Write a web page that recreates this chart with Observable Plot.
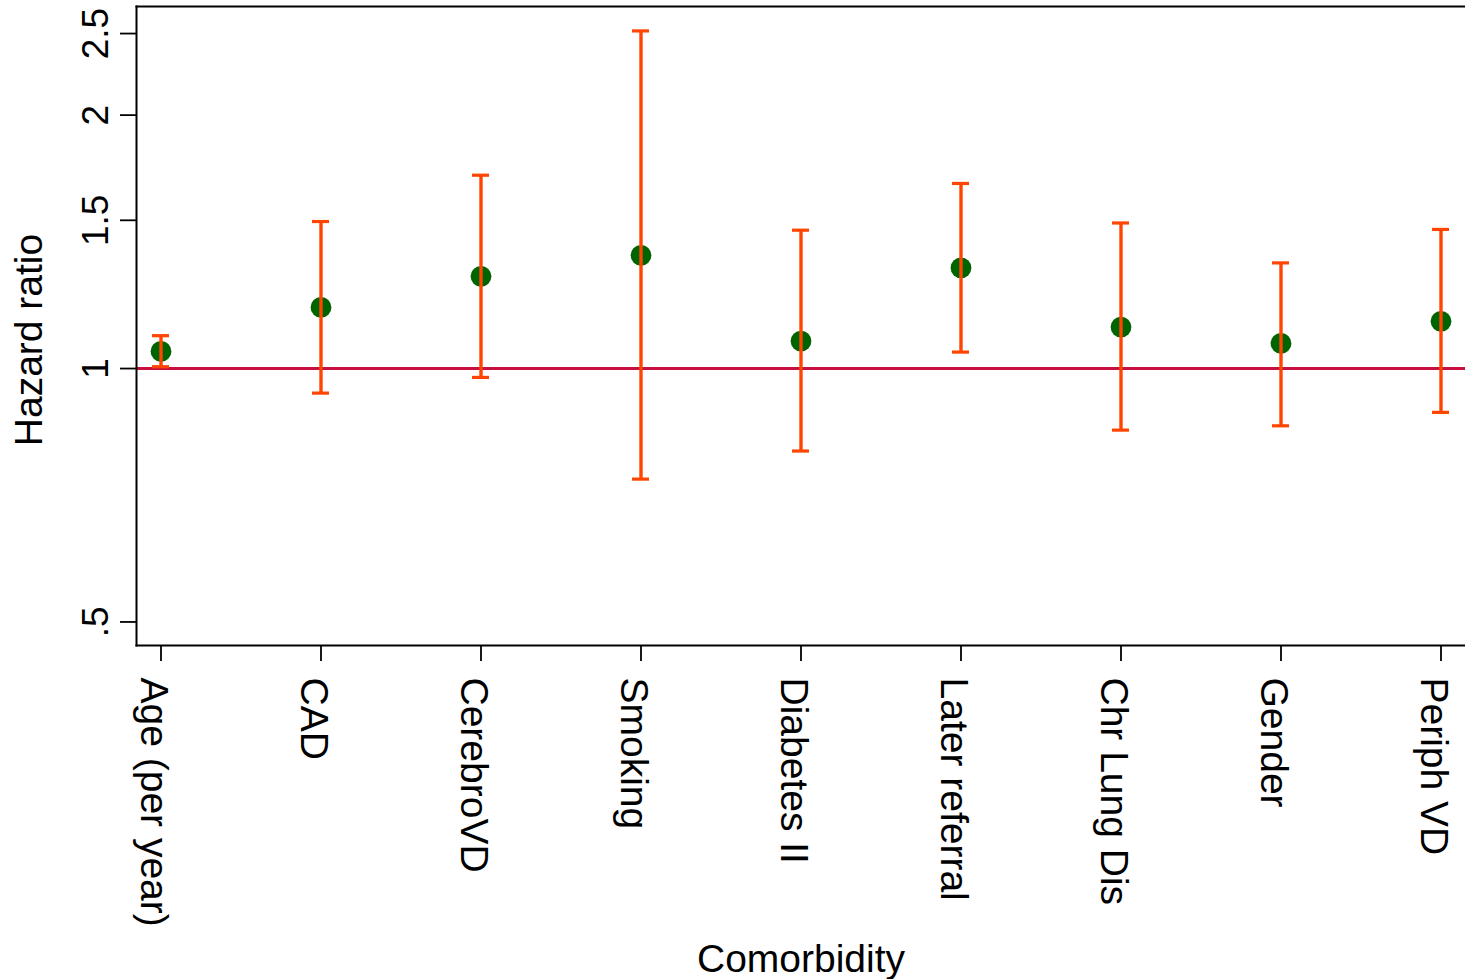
<!DOCTYPE html>
<html>
<head>
<meta charset="utf-8">
<script src="https://cdn.jsdelivr.net/npm/d3@7"></script>
<script src="https://cdn.jsdelivr.net/npm/@observablehq/plot@0.6"></script>
<style>
  html, body { margin: 0; padding: 0; background: #fff; }
  #chart svg { display: block; }
</style>
</head>
<body>
<div id="chart"></div>
<script>
// Hazard ratios with 95% confidence intervals by comorbidity
const categories = ["Age (per year)", "CAD", "CerebroVD", "Smoking", "Diabetes II",
                    "Later referral", "Chr Lung Dis", "Gender", "Periph VD"];
const hazardRatio = [1.048, 1.182, 1.287, 1.363, 1.078, 1.317, 1.120, 1.071, 1.138];
const ciLower     = [1.005, 0.935, 0.976, 0.739, 0.798, 1.046, 0.845, 0.855, 0.887];
const ciUpper     = [1.094, 1.495, 1.697, 2.518, 1.460, 1.659, 1.489, 1.335, 1.463];

const yTicks = [0.5, 1, 1.5, 2, 2.5];
const yTickLabels = [".5", "1", "1.5", "2", "2.5"];

const rows = categories.map((c, i) => ({
  name: c, hr: hazardRatio[i], lo: ciLower[i], hi: ciUpper[i]
}));

const font = "'Liberation Sans', Arial, Helvetica, sans-serif";
const barColor = "#ff4500";

const chart = Plot.plot({
  width: 1465,
  height: 979,
  marginLeft: 136,
  marginRight: 0,
  marginTop: 6,
  marginBottom: 334,
  style: { fontFamily: font, background: "#fff", color: "#000" },
  x: { type: "band", domain: categories, paddingInner: 0.894, paddingOuter: 0.093, axis: null },
  y: { type: "log", domain: [0.4688, 2.692], axis: null },
  marks: [
    // reference line at HR = 1
    Plot.ruleY([1], { stroke: "#c8103e", strokeWidth: 3 }),
    // point estimates
    Plot.dot(rows, { x: "name", y: "hr", r: 10.4, fill: "#006400", stroke: "none" }),
    // confidence intervals with caps
    Plot.ruleX(rows, { x: "name", y1: "lo", y2: "hi", stroke: barColor, strokeWidth: 3.4 }),
    Plot.tickY(rows, { x: "name", y: "lo", stroke: barColor, strokeWidth: 3.2 }),
    Plot.tickY(rows, { x: "name", y: "hi", stroke: barColor, strokeWidth: 3.2 }),
    // plot region border (left, top, bottom)
    Plot.frame({ anchor: "left", stroke: "#000", strokeWidth: 2 }),
    Plot.frame({ anchor: "top", stroke: "#000", strokeWidth: 2 }),
    Plot.frame({ anchor: "bottom", stroke: "#000", strokeWidth: 2 }),
    // axes: tick marks
    Plot.axisY({ ticks: yTicks, tickSize: 16, tickFormat: () => "", strokeWidth: 1.8, label: null }),
    Plot.axisX({ tickSize: 16, tickFormat: () => "", strokeWidth: 1.8, label: null }),
    // y tick labels, rotated
    Plot.text(yTicks, {
      y: d => d, text: (d, i) => yTickLabels[i], frameAnchor: "left",
      rotate: -90, textAnchor: "middle", lineAnchor: "bottom",
      dx: -29, fontSize: 37, fill: "#000"
    }),
    // x tick labels, rotated
    Plot.text(categories, {
      x: d => d, text: d => d, frameAnchor: "bottom",
      rotate: 90, textAnchor: "start", lineAnchor: "bottom",
      dx: -20, dy: 32, fontSize: 39, fill: "#000"
    }),
    // axis titles
    Plot.text(["Hazard ratio"], {
      text: d => d, frameAnchor: "left", rotate: -90, textAnchor: "middle",
      lineAnchor: "bottom", dx: -95, dy: 14, fontSize: 39, fill: "#000"
    }),
    Plot.text(["Comorbidity"], {
      text: d => d, frameAnchor: "bottom", textAnchor: "middle",
      lineAnchor: "bottom", dy: 326, fontSize: 39, fill: "#000"
    })
  ]
});

document.getElementById("chart").appendChild(chart);
</script>
</body>
</html>
